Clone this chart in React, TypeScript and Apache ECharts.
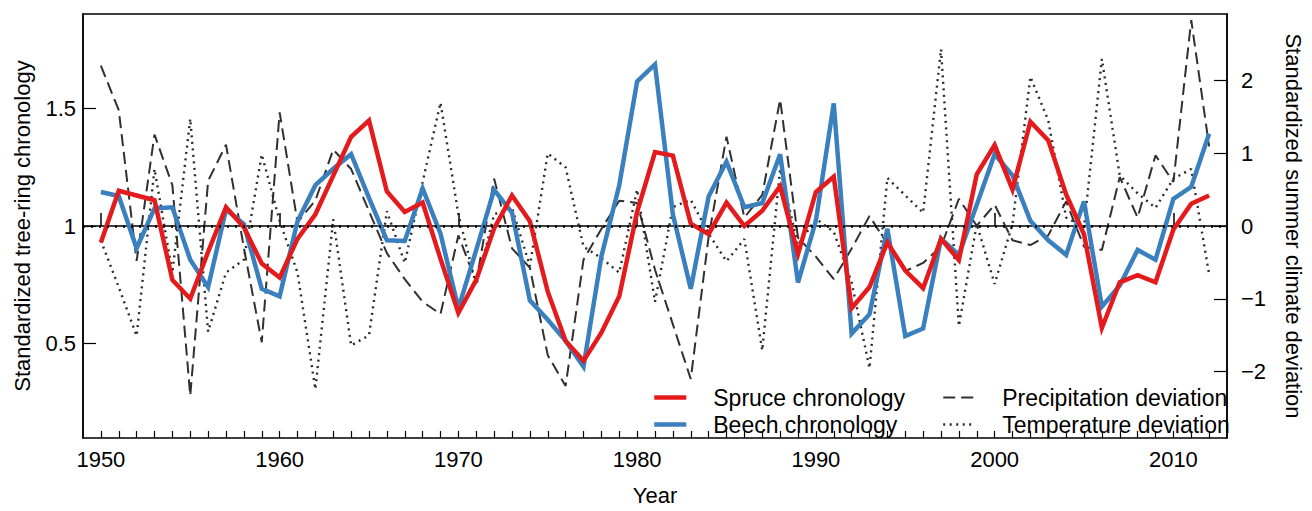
import React, { useEffect, useRef } from "react";
import * as echarts from "echarts";

const years = [
  1950, 1951, 1952, 1953, 1954, 1955, 1956, 1957, 1958, 1959,
  1960, 1961, 1962, 1963, 1964, 1965, 1966, 1967, 1968, 1969,
  1970, 1971, 1972, 1973, 1974, 1975, 1976, 1977, 1978, 1979,
  1980, 1981, 1982, 1983, 1984, 1985, 1986, 1987, 1988, 1989,
  1990, 1991, 1992, 1993, 1994, 1995, 1996, 1997, 1998, 1999,
  2000, 2001, 2002, 2003, 2004, 2005, 2006, 2007, 2008, 2009,
  2010, 2011, 2012,
];

const spruce = [
  0.93, 1.15, 1.13, 1.11, 0.77, 0.69, 0.89, 1.08, 0.995, 0.84,
  0.78, 0.945, 1.05, 1.215, 1.38, 1.45, 1.147, 1.06, 1.1, 0.86,
  0.63, 0.77, 0.99, 1.13, 1.02, 0.72, 0.51, 0.425, 0.545, 0.7,
  1.06, 1.315, 1.3, 1.01, 0.965, 1.1, 1.0, 1.065, 1.17, 0.88,
  1.145, 1.21, 0.65, 0.74, 0.93, 0.81, 0.735, 0.945, 0.855, 1.22,
  1.345, 1.155, 1.445, 1.365, 1.135, 0.965, 0.565, 0.76, 0.79, 0.76,
  0.985, 1.095, 1.13,
];

const beech = [
  1.145, 1.128, 0.905, 1.075, 1.08, 0.856, 0.739, 1.07, 1.008, 0.732,
  0.7, 1.02, 1.174, 1.244, 1.306, 1.12, 0.939, 0.936, 1.16, 0.967,
  0.649, 0.898, 1.154, 1.057, 0.683, 0.6, 0.51, 0.4, 0.87, 1.174,
  1.617, 1.689, 1.05, 0.732, 1.126, 1.274, 1.08, 1.098, 1.306, 0.759,
  1.022, 1.523, 0.541, 0.624, 0.988, 0.531, 0.563, 0.946, 0.877, 1.091,
  1.306, 1.216, 1.022, 0.939, 0.877, 1.105, 0.656, 0.746, 0.898, 0.856,
  1.116, 1.167, 1.393,
];

const precipitation = [
  2.2, 1.59, -0.48, 1.255, 0.56, -2.33, 0.62, 1.116, -0.3, -1.596,
  1.56, 0.05, 0.35, 1.049, 0.782, 0.204, -0.373, -0.729, -1.04, -1.209,
  -0.129, -0.773, 0.649, -0.307, -0.573, -1.773, -2.196, -0.462, -0.04, 0.347,
  0.316, -0.6, -1.35, -2.1, -0.15, 1.227, 0.116, 0.427, 1.738, -0.16,
  -0.42, -0.729, -0.31, 0.138, -0.25, -0.62, -0.507, -0.284, 0.373, 0.004,
  0.293, -0.196, -0.262, -0.129, 0.338, -0.284, -0.329, 0.671, 0.116, 0.969,
  0.604, 2.827, 1.093,
];

const temperature = [
  -0.2, -0.84, -1.507, 0.782, -0.64, 1.471, -1.45, -0.64, -0.462, 0.982,
  0.07, -0.64, -2.24, 0.093, -1.64, -1.5, 0.204, -0.507, 0.604, 1.693,
  0.16, -0.818, 0.16, 0.249, -0.551, 0.996, 0.804, -0.284, -0.44, -0.64,
  0.5, -1.04, 0.26, 0.36, -0.107, -0.484, -0.18, -1.707, 0.782, -0.262,
  0.1, -0.08, -0.773, -1.951, 0.66, 0.42, 0.182, 2.427, -1.373, 0.027,
  -0.796, 0.027, 2.049, 1.449, 0.116, -0.018, 2.293, 0.693, 0.449, 0.249,
  0.649, 0.782, -0.662,
];

const decadeTicks = [1950, 1960, 1970, 1980, 1990, 2000, 2010];
const leftTicks = [0.5, 1, 1.5];
const rightTicks = [-2, -1, 0, 1, 2];

const FONT = "'Liberation Sans', Arial, Helvetica, sans-serif";
const RED = "#e41a1c";
const BLUE = "#3a80bf";
const DASH_COLOR = "#303030";
const DOT_COLOR = "#2a2a2a";

export default function App() {
  const ref = useRef<HTMLDivElement>(null);

  useEffect(() => {
    if (!ref.current) return;
    const chart = echarts.init(ref.current, undefined, { renderer: "svg" });
    const pair = (arr: number[]) => years.map((y, i) => [y, arr[i]]);

    const legendCommon = {
      top: 386,
      orient: "vertical",
      padding: 0,
      itemWidth: 32,
      itemHeight: 14,
      itemGap: 4,
      itemStyle: { opacity: 0 },
      textStyle: { fontSize: 23, color: "#000", fontFamily: FONT, padding: [0, 0, 0, 22] },
    };

    chart.setOption({
      animation: false,
      backgroundColor: "#ffffff",
      textStyle: { fontFamily: FONT },
      grid: {
        left: 83,
        right: 67,
        top: 14,
        bottom: 61,
        show: true,
        borderColor: "#000",
        borderWidth: 1.5,
        backgroundColor: "transparent",
      },
      legend: [
        {
          ...legendCommon,
          left: 652,
          data: [
            { name: "Spruce chronology", lineStyle: { width: 4.5, color: RED } },
            { name: "Beech chronology", lineStyle: { width: 4.5, color: BLUE } },
          ],
        },
        {
          ...legendCommon,
          left: 942,
          data: [
            { name: "Precipitation deviation", lineStyle: { width: 2, color: DASH_COLOR, type: [12, 6] } },
            { name: "Temperature deviation", lineStyle: { width: 2.4, color: DOT_COLOR, type: [2, 4.5] } },
          ],
        },
      ],
      xAxis: [
        {
          type: "value",
          min: 1949,
          max: 2013,
          name: "Year",
          nameLocation: "middle",
          nameGap: 46,
          nameTextStyle: { fontSize: 22, color: "#000", fontFamily: FONT },
          axisLine: { show: true, lineStyle: { color: "#000", width: 1.5 } },
          axisTick: {
            show: true,
            inside: true,
            length: 13,
            customValues: decadeTicks,
            lineStyle: { color: "#000", width: 1.5 },
          },
          axisLabel: {
            customValues: decadeTicks,
            fontSize: 22,
            color: "#000",
            margin: 10,
            fontFamily: FONT,
            formatter: (v: number) => String(v),
          },
          splitLine: { show: false },
        },
        {
          type: "value",
          min: 1949,
          max: 2013,
          position: "bottom",
          axisLine: { show: false },
          axisTick: {
            show: true,
            inside: true,
            length: 7,
            customValues: years,
            lineStyle: { color: "#000", width: 1.2 },
          },
          axisLabel: { show: false },
          splitLine: { show: false },
        },
      ],
      yAxis: [
        {
          type: "value",
          min: 0.096,
          max: 1.904,
          position: "left",
          name: "Standardized tree-ring chronology",
          nameLocation: "middle",
          nameGap: 50,
          nameRotate: 90,
          nameTextStyle: { fontSize: 22, color: "#000", fontFamily: FONT },
          axisLine: { show: true, lineStyle: { color: "#000", width: 1.5 } },
          axisTick: {
            show: true,
            inside: true,
            length: 13,
            customValues: leftTicks,
            lineStyle: { color: "#000", width: 1.2 },
          },
          axisLabel: {
            customValues: leftTicks,
            fontSize: 22,
            color: "#000",
            margin: 7,
            fontFamily: FONT,
          },
          splitLine: { show: false },
        },
        {
          type: "value",
          min: -2.91,
          max: 2.91,
          position: "right",
          name: "Standardized summer climate deviation",
          nameLocation: "middle",
          nameGap: 55,
          nameRotate: -90,
          nameTextStyle: { fontSize: 22, color: "#000", fontFamily: FONT },
          axisLine: { show: true, lineStyle: { color: "#000", width: 1.5 } },
          axisTick: {
            show: true,
            inside: true,
            length: 13,
            customValues: rightTicks,
            lineStyle: { color: "#000", width: 1.2 },
          },
          axisLabel: {
            customValues: rightTicks,
            fontSize: 22,
            color: "#000",
            margin: 14,
            fontFamily: FONT,
            formatter: (v: number) => (v < 0 ? "\u2212" + Math.abs(v) : String(v)),
          },
          splitLine: { show: false },
        },
      ],
      series: [
        {
          name: "Precipitation deviation",
          type: "line",
          xAxisIndex: 0,
          yAxisIndex: 1,
          symbol: "none",
          data: pair(precipitation),
          lineStyle: { color: DASH_COLOR, width: 2, type: [12, 6] },
          itemStyle: { color: DASH_COLOR },
          z: 2,
          markLine: {
            silent: true,
            symbol: "none",
            label: { show: false },
            lineStyle: { color: "#000", width: 2.5, type: [2, 6] },
            data: [{ yAxis: 0 }],
          },
        },
        {
          name: "Temperature deviation",
          type: "line",
          xAxisIndex: 0,
          yAxisIndex: 1,
          symbol: "none",
          data: pair(temperature),
          lineStyle: { color: DOT_COLOR, width: 2.4, type: [2, 4.5] },
          itemStyle: { color: DOT_COLOR },
          z: 2,
        },
        {
          name: "Beech chronology",
          type: "line",
          xAxisIndex: 0,
          yAxisIndex: 0,
          symbol: "none",
          data: pair(beech),
          lineStyle: { color: BLUE, width: 4.5, join: "miter" },
          itemStyle: { color: BLUE },
          z: 3,
        },
        {
          name: "Spruce chronology",
          type: "line",
          xAxisIndex: 0,
          yAxisIndex: 0,
          symbol: "none",
          data: pair(spruce),
          lineStyle: { color: RED, width: 4.5, join: "miter" },
          itemStyle: { color: RED },
          z: 4,
        },
      ],
    });

    return () => chart.dispose();
  }, []);

  return <div ref={ref} style={{ width: 1312, height: 511, position: "absolute", left: 0, top: 0 }} />;
}
